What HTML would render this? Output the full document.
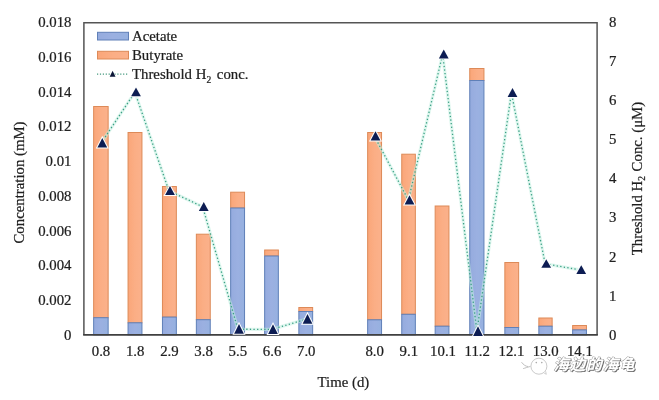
<!DOCTYPE html>
<html><head><meta charset="utf-8"><title>chart</title>
<style>
html,body{margin:0;padding:0;background:#fff;}
body{width:659px;height:400px;overflow:hidden;position:relative;}
svg{position:absolute;left:0;top:0;display:block;}
text{font-family:"Liberation Serif","Noto Serif CJK SC",serif;font-size:14.8px;fill:#202020;stroke:#202020;stroke-width:0.22px;}
.wm{stroke:none;font-family:"Liberation Sans","Noto Sans CJK SC","WenQuanYi Zen Hei",sans-serif;font-size:15.3px;font-weight:bold;font-style:italic;letter-spacing:1.2px;}
</style></head><body>
<svg width="659" height="400" viewBox="0 0 659 400">
<defs>
<linearGradient id="go" x1="0" y1="0" x2="1" y2="0"><stop offset="0" stop-color="#faa679"/><stop offset="0.5" stop-color="#fbae85"/><stop offset="1" stop-color="#fbb18b"/></linearGradient>
<linearGradient id="gb" x1="0" y1="0" x2="1" y2="0"><stop offset="0" stop-color="#95abde"/><stop offset="0.5" stop-color="#9bb0e1"/><stop offset="1" stop-color="#96b1e0"/></linearGradient>
<filter id="bl" x="-5%" y="-5%" width="110%" height="110%"><feGaussianBlur stdDeviation="0.45"/></filter>
</defs>
<rect x="0" y="0" width="659" height="400" fill="#ffffff"/>
<g filter="url(#bl)">

<rect x="93.65" y="106.50" width="14.50" height="211.20" fill="url(#go)" stroke="#dd8a58" stroke-width="1"/>
<rect x="93.65" y="317.70" width="14.50" height="17.20" fill="url(#gb)" stroke="#6080b8" stroke-width="1"/>
<rect x="128.05" y="132.50" width="13.90" height="190.30" fill="url(#go)" stroke="#dd8a58" stroke-width="1"/>
<rect x="128.05" y="322.80" width="13.90" height="12.10" fill="url(#gb)" stroke="#6080b8" stroke-width="1"/>
<rect x="162.45" y="186.50" width="13.90" height="130.60" fill="url(#go)" stroke="#dd8a58" stroke-width="1"/>
<rect x="162.45" y="317.10" width="13.90" height="17.80" fill="url(#gb)" stroke="#6080b8" stroke-width="1"/>
<rect x="196.35" y="234.20" width="13.90" height="85.50" fill="url(#go)" stroke="#dd8a58" stroke-width="1"/>
<rect x="196.35" y="319.70" width="13.90" height="15.20" fill="url(#gb)" stroke="#6080b8" stroke-width="1"/>
<rect x="230.65" y="192.20" width="13.90" height="15.80" fill="url(#go)" stroke="#dd8a58" stroke-width="1"/>
<rect x="230.65" y="208.00" width="13.90" height="126.90" fill="url(#gb)" stroke="#6080b8" stroke-width="1"/>
<rect x="264.65" y="250.00" width="13.70" height="6.00" fill="url(#go)" stroke="#dd8a58" stroke-width="1"/>
<rect x="264.65" y="256.00" width="13.70" height="78.90" fill="url(#gb)" stroke="#6080b8" stroke-width="1"/>
<rect x="298.85" y="307.50" width="13.80" height="4.00" fill="url(#go)" stroke="#dd8a58" stroke-width="1"/>
<rect x="298.85" y="311.50" width="13.80" height="23.40" fill="url(#gb)" stroke="#6080b8" stroke-width="1"/>
<rect x="367.65" y="132.50" width="13.90" height="187.30" fill="url(#go)" stroke="#dd8a58" stroke-width="1"/>
<rect x="367.65" y="319.80" width="13.90" height="15.10" fill="url(#gb)" stroke="#6080b8" stroke-width="1"/>
<rect x="401.75" y="154.20" width="13.60" height="160.10" fill="url(#go)" stroke="#dd8a58" stroke-width="1"/>
<rect x="401.75" y="314.30" width="13.60" height="20.60" fill="url(#gb)" stroke="#6080b8" stroke-width="1"/>
<rect x="435.15" y="206.00" width="13.80" height="120.20" fill="url(#go)" stroke="#dd8a58" stroke-width="1"/>
<rect x="435.15" y="326.20" width="13.80" height="8.70" fill="url(#gb)" stroke="#6080b8" stroke-width="1"/>
<rect x="469.75" y="68.50" width="14.20" height="12.00" fill="url(#go)" stroke="#dd8a58" stroke-width="1"/>
<rect x="469.75" y="80.50" width="14.20" height="254.40" fill="url(#gb)" stroke="#6080b8" stroke-width="1"/>
<rect x="504.85" y="262.50" width="13.80" height="65.00" fill="url(#go)" stroke="#dd8a58" stroke-width="1"/>
<rect x="504.85" y="327.50" width="13.80" height="7.40" fill="url(#gb)" stroke="#6080b8" stroke-width="1"/>
<rect x="538.85" y="318.00" width="13.30" height="8.20" fill="url(#go)" stroke="#dd8a58" stroke-width="1"/>
<rect x="538.85" y="326.20" width="13.30" height="8.70" fill="url(#gb)" stroke="#6080b8" stroke-width="1"/>
<rect x="572.65" y="325.50" width="13.80" height="4.40" fill="url(#go)" stroke="#dd8a58" stroke-width="1"/>
<rect x="572.65" y="329.90" width="13.80" height="5.00" fill="url(#gb)" stroke="#6080b8" stroke-width="1"/>
<polyline points="83.9,334.9 83.9,22.8 597.1,22.8 597.1,334.9" fill="none" stroke="#555555" stroke-width="1.5"/>
<line x1="83.15" y1="334.9" x2="597.85" y2="334.9" stroke="#3f3f3f" stroke-width="1.8"/>
<polyline points="101.20,143.05 134.90,92.20 168.90,190.80 202.65,206.75 237.90,329.20 271.90,329.40 306.40,319.15" fill="none" stroke="#c4f1e2" stroke-width="3.2" stroke-opacity="0.55" stroke-linejoin="round"/>
<polyline points="101.20,143.05 134.90,92.20 168.90,190.80 202.65,206.75 237.90,329.20 271.90,329.40 306.40,319.15" fill="none" stroke="#3a9f84" stroke-width="1.3" stroke-dasharray="1.3 2.3" stroke-linejoin="round"/>
<polyline points="374.40,136.15 408.40,200.15 442.65,54.25 476.90,331.45 511.40,92.80 545.15,263.85 580.15,269.90" fill="none" stroke="#c4f1e2" stroke-width="3.2" stroke-opacity="0.55" stroke-linejoin="round"/>
<polyline points="374.40,136.15 408.40,200.15 442.65,54.25 476.90,331.45 511.40,92.80 545.15,263.85 580.15,269.90" fill="none" stroke="#3a9f84" stroke-width="1.3" stroke-dasharray="1.3 2.3" stroke-linejoin="round"/>
<polygon points="102.30,138.00 107.20,147.50 97.40,147.50" fill="#0c1f52" stroke="#ffffff" stroke-width="2" stroke-linejoin="miter" paint-order="stroke"/>
<polygon points="136.00,87.50 140.90,96.30 131.10,96.30" fill="#0c1f52" stroke="#ffffff" stroke-width="2" stroke-linejoin="miter" paint-order="stroke"/>
<polygon points="170.00,186.00 174.90,195.00 165.10,195.00" fill="#0c1f52" stroke="#ffffff" stroke-width="2" stroke-linejoin="miter" paint-order="stroke"/>
<polygon points="203.75,202.00 208.65,210.90 198.85,210.90" fill="#0c1f52" stroke="#ffffff" stroke-width="2" stroke-linejoin="miter" paint-order="stroke"/>
<polygon points="239.00,324.00 243.90,333.80 234.10,333.80" fill="#0c1f52" stroke="#ffffff" stroke-width="2" stroke-linejoin="miter" paint-order="stroke"/>
<polygon points="273.00,324.20 277.90,334.00 268.10,334.00" fill="#0c1f52" stroke="#ffffff" stroke-width="2" stroke-linejoin="miter" paint-order="stroke"/>
<polygon points="307.50,314.00 312.40,323.70 302.60,323.70" fill="#0c1f52" stroke="#ffffff" stroke-width="2" stroke-linejoin="miter" paint-order="stroke"/>
<polygon points="375.50,131.20 380.40,140.50 370.60,140.50" fill="#0c1f52" stroke="#ffffff" stroke-width="2" stroke-linejoin="miter" paint-order="stroke"/>
<polygon points="409.50,195.20 414.40,204.50 404.60,204.50" fill="#0c1f52" stroke="#ffffff" stroke-width="2" stroke-linejoin="miter" paint-order="stroke"/>
<polygon points="443.75,49.50 448.65,58.40 438.85,58.40" fill="#0c1f52" stroke="#ffffff" stroke-width="2" stroke-linejoin="miter" paint-order="stroke"/>
<polygon points="478.00,326.30 482.90,336.00 473.10,336.00" fill="#0c1f52" stroke="#ffffff" stroke-width="2" stroke-linejoin="miter" paint-order="stroke"/>
<polygon points="512.50,88.00 517.40,97.00 507.60,97.00" fill="#0c1f52" stroke="#ffffff" stroke-width="2" stroke-linejoin="miter" paint-order="stroke"/>
<polygon points="546.25,259.30 551.15,267.80 541.35,267.80" fill="#0c1f52" stroke="#ffffff" stroke-width="2" stroke-linejoin="miter" paint-order="stroke"/>
<polygon points="581.25,265.30 586.15,273.90 576.35,273.90" fill="#0c1f52" stroke="#ffffff" stroke-width="2" stroke-linejoin="miter" paint-order="stroke"/>
<rect x="97.5" y="32.3" width="31" height="7.7" fill="url(#gb)" stroke="#6080b8" stroke-width="1"/>
<rect x="97.5" y="51.3" width="31" height="7.7" fill="url(#go)" stroke="#dd8a58" stroke-width="1"/>
<line x1="97" y1="74" x2="128.5" y2="74" stroke="#46997f" stroke-width="1.25" stroke-dasharray="1.2 1.7"/>
<polygon points="112.6,70.8 115.5,76.8 109.7,76.8" fill="#0b1838" stroke="#fff" stroke-width="0.8" paint-order="stroke"/>
<text x="132" y="40.5">Acetate</text>
<text x="132" y="59.6">Butyrate</text>
<text x="132" y="78.7">Threshold H<tspan font-size="9.5px" dy="4">2</tspan><tspan dy="-4" dx="2"> conc.</tspan></text>
<text x="71.5" y="339.70" text-anchor="end">0</text>
<text x="71.5" y="304.99" text-anchor="end">0.002</text>
<text x="71.5" y="270.28" text-anchor="end">0.004</text>
<text x="71.5" y="235.57" text-anchor="end">0.006</text>
<text x="71.5" y="200.86" text-anchor="end">0.008</text>
<text x="71.5" y="166.14" text-anchor="end">0.01</text>
<text x="71.5" y="131.43" text-anchor="end">0.012</text>
<text x="71.5" y="96.72" text-anchor="end">0.014</text>
<text x="71.5" y="62.01" text-anchor="end">0.016</text>
<text x="71.5" y="27.30" text-anchor="end">0.018</text>
<text x="609.0" y="339.60">0</text>
<text x="609.0" y="300.55">1</text>
<text x="609.0" y="261.50">2</text>
<text x="609.0" y="222.45">3</text>
<text x="609.0" y="183.40">4</text>
<text x="609.0" y="144.35">5</text>
<text x="609.0" y="105.30">6</text>
<text x="609.0" y="66.25">7</text>
<text x="609.0" y="27.20">8</text>
<text x="101.00" y="355.8" text-anchor="middle">0.8</text>
<text x="135.21" y="355.8" text-anchor="middle">1.8</text>
<text x="169.42" y="355.8" text-anchor="middle">2.9</text>
<text x="203.62" y="355.8" text-anchor="middle">3.8</text>
<text x="237.83" y="355.8" text-anchor="middle">5.5</text>
<text x="272.04" y="355.8" text-anchor="middle">6.6</text>
<text x="306.24" y="355.8" text-anchor="middle">7.0</text>
<text x="374.66" y="355.8" text-anchor="middle">8.0</text>
<text x="408.86" y="355.8" text-anchor="middle">9.1</text>
<text x="443.07" y="355.8" text-anchor="middle">10.1</text>
<text x="477.28" y="355.8" text-anchor="middle">11.2</text>
<text x="511.48" y="355.8" text-anchor="middle">12.1</text>
<text x="545.69" y="355.8" text-anchor="middle">13.0</text>
<text x="579.90" y="355.8" text-anchor="middle">14.1</text>
<text x="343.4" y="387" text-anchor="middle">Time (d)</text>
<text transform="translate(24,182.5) rotate(-90)" text-anchor="middle">Concentration (mM)</text>
<text transform="translate(641.5,178.5) rotate(-90)" text-anchor="middle">Threshold H<tspan font-size="9.5px" dy="3.5">2</tspan><tspan dy="-3.5" dx="1"> Conc. (μM)</tspan></text>
</g>
<g filter="url(#bl)">
<path d="M521.5,362.2 C523.5,364.8 525.5,366.3 528.2,366.6 M523.2,368.6 C525.3,368 527,367.3 530.6,366.4" fill="none" stroke="#b9b9b9" stroke-width="0.9"/>
<circle cx="538.9" cy="366.2" r="8" fill="#fff" stroke="#c4c4c4" stroke-width="0.9"/>
<path d="M543.5,372.6 L546.3,374.3 L545.6,371.2" fill="#fff" stroke="#c4c4c4" stroke-width="0.8"/>
<circle cx="536.3" cy="362.6" r="0.8" fill="#aaa"/><circle cx="541.8" cy="362.6" r="0.8" fill="#aaa"/>
<text class="wm" x="553.4" y="370.3" style="fill:#ffffff;stroke:#ffffff;stroke-width:3.5px;stroke-opacity:0.8">海边的海龟</text>
<text class="wm" x="553.4" y="370.3" style="fill:#666666" transform="translate(1.2,1.1)">海边的海龟</text>
<text class="wm" x="553.4" y="370.3" style="fill:#ffffff;stroke:#949494;stroke-width:0.9px;paint-order:stroke">海边的海龟</text>
</g>
</svg></body></html>
